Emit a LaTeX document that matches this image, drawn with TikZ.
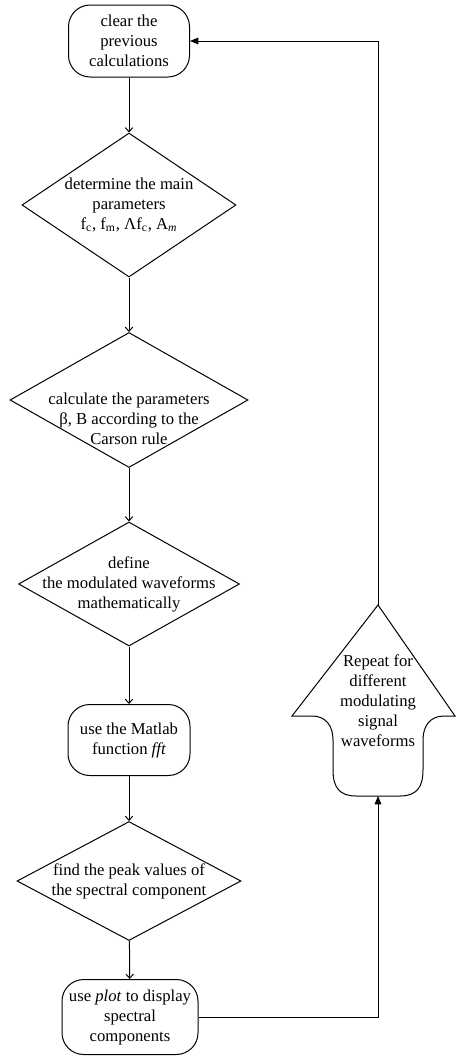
\documentclass[tikz,border=0pt]{standalone}
\usepackage{fontspec}
\setmainfont{Liberation Serif}
\usetikzlibrary{shapes.geometric,arrows.meta}

\begin{document}
\begin{tikzpicture}[x=0.6pt, y=-0.6pt, line width=0.6pt, font=\fontsize{10}{12}\selectfont]
  \tikzstyle{txt}=[align=center, inner sep=0pt]
  \tikzstyle{process}=[draw, rounded corners=13pt, align=center, inner sep=0pt]
  \tikzstyle{decision}=[draw, diamond, inner sep=0pt]
  \tikzstyle{flow}=[-{Straight Barb[length=2.5pt, width=4.5pt]}]
  \tikzstyle{loop}=[-{Triangle[length=5pt, width=4pt]}]

  \useasboundingbox (0,0) rectangle (456,1056);

  % main column
  \node[process, minimum width=72.6pt, minimum height=43.2pt] (clear) at (129,41) {clear the\\previous\\calculations};
  \node[decision, minimum width=128.4pt, minimum height=86.4pt,
        label={[txt]center:determine the main\\parameters\\f\textsubscript{c}, f\textsubscript{m}, Λf\textsubscript{c}, A\textsubscript{\textit{m}}}] (params) at (129,205) {};
  \node[decision, minimum width=142.8pt, minimum height=81pt,
        label={[txt, yshift=-11pt]center:calculate the parameters\\β, B according to the\\Carson rule}] (carson) at (129,400) {};
  \node[decision, minimum width=132.6pt, minimum height=74.4pt,
        label={[txt]center:define\\the modulated waveforms\\mathematically}] (define) at (129,584) {};
  \node[process, minimum width=73.2pt, minimum height=42.6pt] (fft) at (129,740) {use the Matlab\\function \textit{fft}};
  \node[decision, minimum width=134.4pt, minimum height=71.4pt,
        label={[txt]center:find the peak values of\\the spectral component}] (peak) at (129,881) {};
  \node[process, minimum width=81.6pt, minimum height=45pt] (plot) at (130,1017) {use \textit{plot} to display\\spectral\\components};

  \path (clear) edge[flow] (params);
  \path (params) edge[flow] (carson);
  \path (carson) edge[flow] (define);
  \path (define) edge[flow] (fft);
  \path (fft) edge[flow] (peak);
  \path (peak) edge[flow] (plot);

  % repeat arrow
  \coordinate (rtop) at (378,605);
  \coordinate (rbot) at (378,796);
  \draw (rtop) -- (455,716) -- (444,716) .. controls (430,716) and (423,726) .. (423,740)
        -- (423,770) .. controls (423,788) and (416,796) .. (400,796) -- (356,796)
        .. controls (340,796) and (333,788) .. (333,770) -- (333,740)
        .. controls (333,726) and (326,716) .. (312,716) -- (292,716) -- cycle;
  \node[txt] (repeat) at (378,701) {Repeat for\\different\\modulating\\signal\\waveforms};

  \draw[loop] (plot.east) -| (rbot);
  \draw[loop] (rtop) |- (clear.east);
\end{tikzpicture}
\end{document}
